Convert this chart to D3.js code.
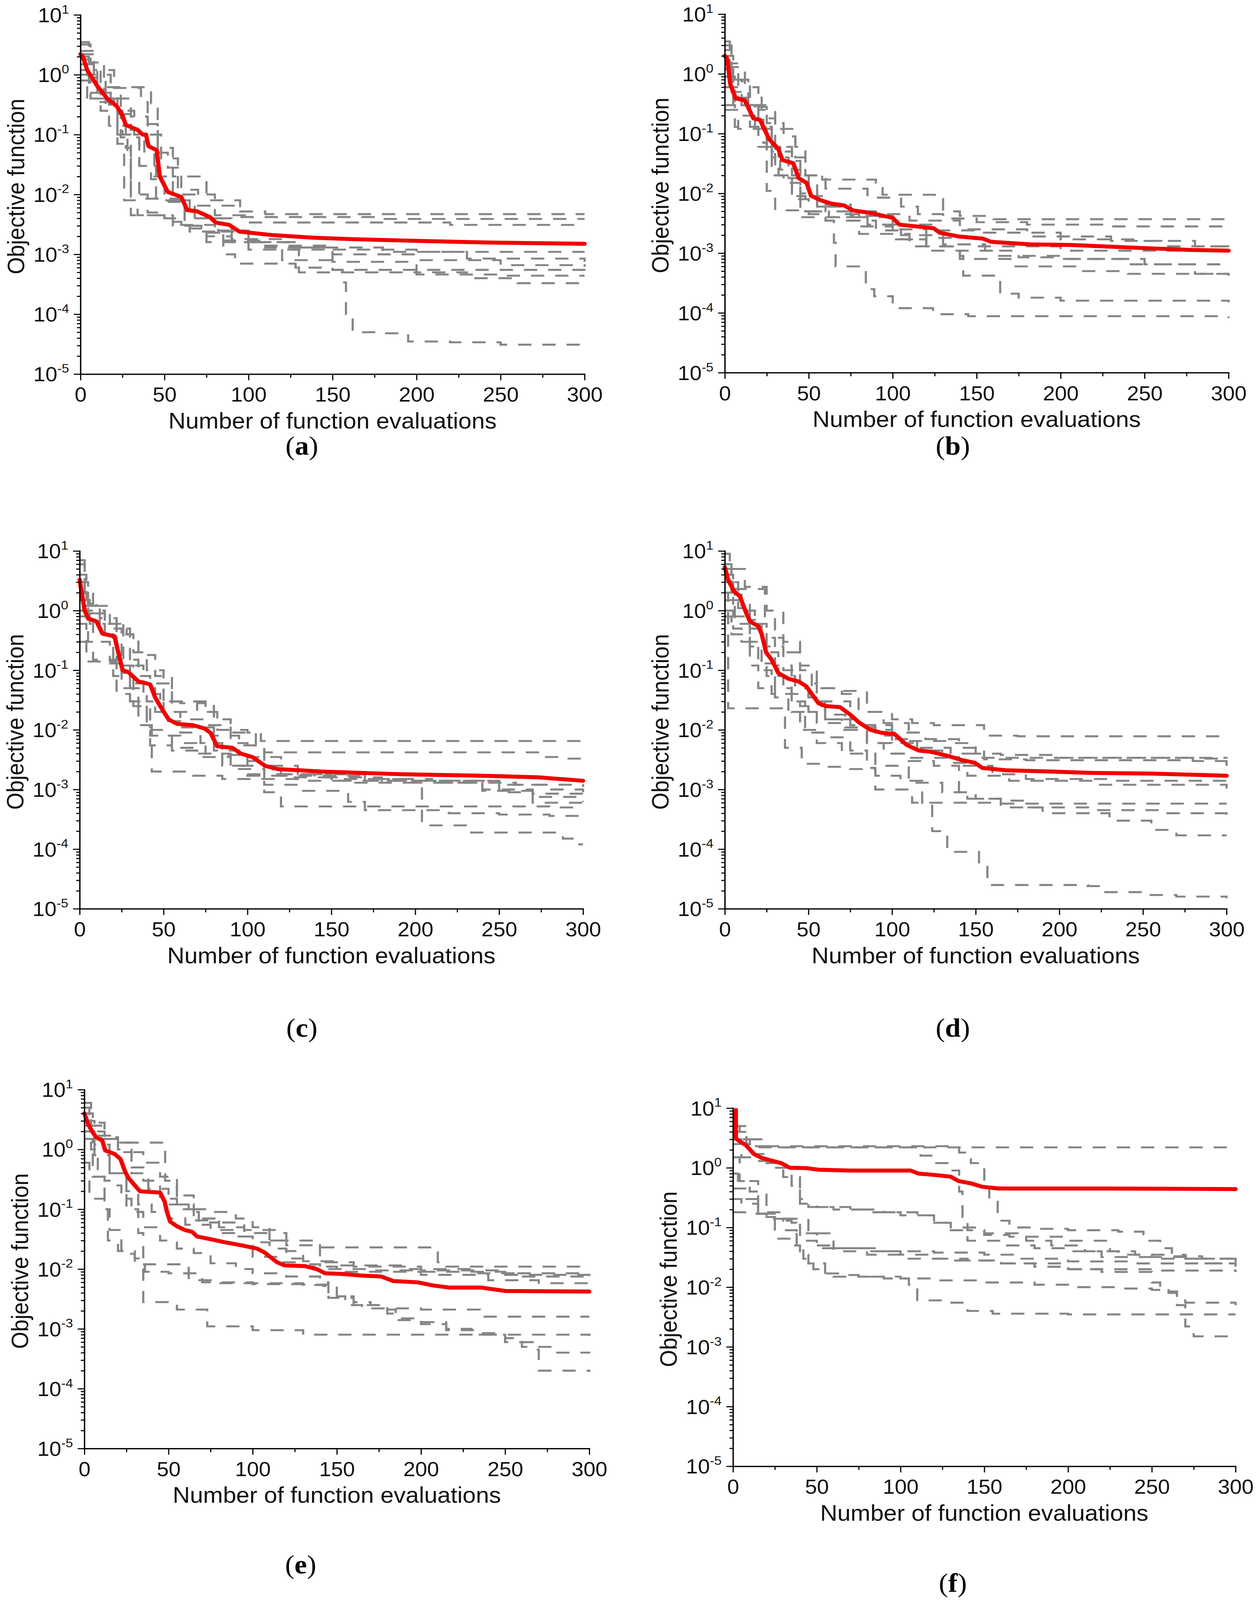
<!DOCTYPE html>
<html>
<head>
<meta charset="utf-8">
<script src="https://cdn.jsdelivr.net/npm/d3@7"></script>
<style>
  html, body { margin: 0; padding: 0; background: #fff; overflow: hidden; }
  svg { display: block; width: 100vw; height: 100vh; }
</style>
</head>
<body>
<svg id="figure" viewBox="0 0 3224 4414" preserveAspectRatio="none"></svg>
<script>
// ---- tick values and texts ----
const xTickValues = [0, 50, 100, 150, 200, 250, 300];
const xMinorValues = [25, 75, 125, 175, 225, 275];
const yExponents = [-5, -4, -3, -2, -1, 0, 1];
const panelLetters = ['a', 'b', 'c', 'd', 'e', 'f'];
const xTitle = 'Number of function evaluations';
const yTitle = 'Objective function';

// ---- panel (a) ----
const meanA = [[0,2.2],[1.5,2.0],[4,1.2],[10,0.65],[16,0.4],[21.5,0.3],[25,0.21],[27,0.145],[34,0.12],[37,0.1],[39,0.1],[40.5,0.064],[45.4,0.055],[47.2,0.02],[52,0.011],[60,0.0091],[63.5,0.0055],[69.6,0.0052],[77,0.0042],[80.5,0.0034],[88.5,0.0031],[94.6,0.0024],[114,0.0021],[138,0.0019],[160,0.0018],[200,0.00168],[240,0.00158],[300,0.0015]];
const runsA = [
  [[0,3.2],[6,1.6],[12,0.62],[42,0.33],[46,0.05],[52,0.028],[60,0.012],[70,0.0065],[95,0.0052],[110,0.0047],[300,0.0047]],
  [[0,2.5],[8,1.2],[20,0.6],[36,0.35],[40,0.15],[46,0.06],[55,0.02],[75,0.008],[95,0.0042],[180,0.0039],[300,0.0039]],
  [[0,1.5],[10,0.5],[22,0.4],[30,0.2],[40,0.1],[48,0.04],[58,0.01],[80,0.0045],[100,0.0034],[220,0.0031],[300,0.0031]],
  [[0,2.0],[5,0.5],[12,0.25],[25,0.1],[30,0.018],[35,0.0085],[45,0.0085],[62,0.003],[75,0.002],[90,0.0016],[110,0.0014],[150,0.0012],[200,0.0011],[300,0.0011]],
  [[0,1.2],[4,0.4],[15,0.3],[22,0.1],[28,0.04],[30,0.01],[40,0.005],[50,0.004],[60,0.0031],[80,0.0024],[100,0.0016],[130,0.0013],[180,0.0011],[230,0.00085],[300,0.00075]],
  [[0,0.8],[6,0.4],[20,0.22],[30,0.12],[35,0.03],[42,0.018],[50,0.0075],[62,0.003],[72,0.0023],[85,0.0017],[110,0.0013],[150,0.001],[200,0.0008],[250,0.00066],[300,0.00062]],
  [[0,1.0],[10,0.35],[17,0.14],[27,0.06],[30,0.0045],[50,0.0045],[55,0.003],[65,0.0024],[85,0.001],[92,0.0007],[128,0.0006],[150,0.00055],[300,0.00054]],
  [[0,3.5],[5,1.5],[14,0.5],[24,0.25],[32,0.1],[38,0.05],[44,0.02],[55,0.008],[68,0.004],[82,0.0025],[100,0.0016],[125,0.0012],[130,0.0005],[200,0.00046],[250,0.00044],[300,0.00044]],
  [[0,1.8],[5,0.9],[15,0.4],[22,0.07],[26,0.008],[30,0.008],[34,0.0045],[50,0.0035],[60,0.0027],[75,0.0016],[100,0.0012],[150,0.00075],[200,0.0005],[230,0.0004],[260,0.00033],[300,0.0003]],
  [[0,2.2],[8,1.0],[18,0.25],[24,0.09],[35,0.03],[45,0.008],[65,0.004],[90,0.0018],[120,0.0008],[150,0.00055],[156,0.00034],[158,0.0001],[162,0.00005],[180,0.000048],[195,0.000035],[220,0.000034],[250,0.000031],[300,0.000031]]
];

// ---- panel (b) ----
const meanB = [[0,2.0],[1.4,1.8],[3.3,0.67],[6.5,0.39],[12,0.36],[17,0.18],[21,0.17],[26.5,0.08],[31.8,0.056],[34.4,0.036],[40.8,0.032],[44,0.018],[48.7,0.015],[51.4,0.0091],[57.6,0.0076],[63.8,0.0067],[71,0.0063],[76.3,0.0052],[88.8,0.0046],[93,0.0043],[100,0.0039],[104,0.003],[124.4,0.0026],[128,0.0022],[139.3,0.0019],[153.7,0.00175],[158.5,0.00155],[182,0.0014],[206,0.00137],[242,0.00124],[278,0.00113],[300,0.0011]];
const runsB = [
  [[0,3.5],[3,0.8],[10,0.75],[15,0.3],[25,0.15],[35,0.09],[42,0.04],[48,0.02],[58,0.017],[90,0.015],[94,0.0095],[125,0.008],[130,0.005],[140,0.0042],[160,0.0037],[300,0.0035]],
  [[0,1.2],[5,0.8],[14,0.28],[25,0.18],[30,0.06],[40,0.035],[45,0.02],[60,0.012],[85,0.0085],[105,0.006],[115,0.0045],[130,0.0038],[150,0.0033],[180,0.003],[230,0.0028],[300,0.0028]],
  [[0,2.5],[4,0.5],[12,0.3],[20,0.12],[28,0.05],[40,0.02],[50,0.009],[60,0.0065],[75,0.005],[90,0.0045],[110,0.0035],[140,0.0025],[180,0.0019],[230,0.0016],[260,0.0013],[300,0.00118]],
  [[0,0.9],[6,0.3],[15,0.13],[25,0.06],[33,0.025],[45,0.01],[55,0.006],[75,0.0042],[100,0.0025],[120,0.0018],[150,0.0013],[200,0.0011],[300,0.001]],
  [[0,0.3],[6,0.13],[20,0.12],[25,0.055],[32,0.02],[40,0.009],[48,0.005],[62,0.004],[80,0.0028],[100,0.0017],[120,0.0011],[160,0.0009],[200,0.0008],[250,0.00065],[300,0.00063]],
  [[0,1.5],[8,0.4],[22,0.13],[28,0.02],[35,0.015],[45,0.004],[60,0.0035],[80,0.0021],[110,0.0013],[140,0.0008],[170,0.0006],[210,0.0005],[240,0.00045],[300,0.00042]],
  [[0,0.6],[10,0.2],[23,0.07],[25,0.011],[30,0.0052],[45,0.005],[58,0.004],[70,0.0035],[90,0.0024],[105,0.0017],[120,0.0013],[140,0.0009],[142,0.00042],[162,0.00042],[164,0.00021],[175,0.00018],[200,0.00016],[300,0.00015]],
  [[0,0.25],[8,0.12],[20,0.06],[30,0.02],[40,0.008],[50,0.0045],[60,0.0035],[65,0.0015],[66,0.0006],[82,0.0006],[84,0.00025],[89,0.00019],[100,0.00012],[124,0.000095],[145,0.000088],[300,0.000082]],
  [[0,2.0],[5,0.3],[18,0.13],[28,0.04],[38,0.018],[45,0.009],[55,0.006],[70,0.0045],[85,0.003],[105,0.002],[130,0.0014],[155,0.0011],[175,0.00085],[200,0.0008],[240,0.00065],[280,0.00045],[300,0.0004]],
  [[0,3.0],[4,1.3],[12,0.6],[20,0.25],[30,0.12],[42,0.06],[48,0.02],[55,0.006],[60,0.005],[80,0.004],[100,0.003],[125,0.0024],[150,0.0022],[200,0.0017],[250,0.0016],[280,0.0013],[300,0.0012]]
];

// ---- panel (c) ----
const meanC = [[0,3.3],[3,1.0],[5,0.74],[10,0.66],[13.6,0.41],[20.8,0.37],[23,0.2],[25.6,0.1],[29,0.093],[35,0.065],[42,0.058],[45,0.035],[48,0.025],[53,0.015],[58,0.0126],[67.5,0.012],[74.6,0.0105],[78,0.0089],[82,0.0053],[91,0.005],[96,0.004],[103,0.0035],[110.5,0.0025],[118,0.0022],[144,0.002],[192,0.0018],[240,0.0017],[273,0.0016],[300,0.0014]];
const runsC = [
  [[0,6],[3,1.2],[10,1.0],[15,0.7],[22,0.4],[32,0.2],[40,0.1],[50,0.03],[60,0.028],[75,0.02],[82,0.01],[100,0.009],[108,0.0065],[300,0.0064]],
  [[0,3],[5,1.3],[12,0.75],[22,0.5],[30,0.12],[38,0.04],[48,0.03],[76,0.03],[80,0.015],[90,0.009],[105,0.0055],[110,0.0042],[260,0.0042],[275,0.0035],[290,0.0033],[300,0.0028]],
  [[0,1.5],[6,0.6],[15,0.35],[22,0.13],[30,0.06],[40,0.03],[50,0.014],[60,0.009],[72,0.006],[85,0.0038],[100,0.0025],[115,0.0018],[140,0.0016],[180,0.0014],[220,0.0013],[260,0.0012],[300,0.0011]],
  [[0,0.3],[8,0.15],[25,0.09],[30,0.05],[45,0.02],[60,0.011],[80,0.0045],[95,0.0035],[120,0.0017],[170,0.0014],[210,0.0013],[240,0.001],[270,0.00085],[300,0.00078]],
  [[0,0.8],[5,0.3],[18,0.14],[25,0.05],[35,0.025],[42,0.008],[55,0.005],[70,0.004],[85,0.0025],[100,0.0017],[125,0.0016],[150,0.0014],[200,0.0013],[240,0.00095],[270,0.00075],[300,0.00062]],
  [[0,0.6],[4,0.14],[18,0.13],[22,0.04],[30,0.025],[35,0.012],[42,0.0055],[55,0.0045],[70,0.0035],[90,0.0022],[110,0.0009],[120,0.00052],[200,0.00052],[280,0.0005],[300,0.00049]],
  [[0,2],[5,0.9],[12,0.5],[25,0.12],[32,0.025],[40,0.01],[50,0.008],[60,0.006],[75,0.004],[90,0.0025],[100,0.0018],[110,0.0012],[130,0.00095],[160,0.00062],[170,0.00045],[220,0.0004],[250,0.00038],[280,0.00036],[300,0.00029]],
  [[0,1],[8,0.4],[20,0.08],[30,0.03],[40,0.012],[43,0.002],[55,0.002],[65,0.0017],[85,0.0015],[130,0.0014],[160,0.0013],[200,0.0012],[204,0.00025],[228,0.00025],[232,0.00019],[288,0.00015],[296,0.00012],[300,0.00012]],
  [[0,4],[4,1.5],[10,1.2],[18,0.6],[26,0.15],[35,0.08],[42,0.06],[55,0.02],[65,0.015],[75,0.012],[90,0.006],[100,0.003],[110,0.0018],[150,0.0015],[200,0.0014],[250,0.0012],[280,0.001],[300,0.0009]],
  [[0,7],[3,2],[8,0.9],[15,0.6],[28,0.4],[35,0.18],[45,0.08],[55,0.03],[70,0.02],[80,0.008],[95,0.0055],[110,0.0025],[130,0.0018],[170,0.0015],[210,0.0014],[250,0.0009],[270,0.0006],[300,0.00055]]
];

// ---- panel (d) ----
const meanD = [[0,5.3],[2,3.3],[5.5,2.1],[9,1.75],[12.7,0.93],[15,0.66],[20,0.55],[22,0.41],[24.7,0.2],[28,0.15],[32,0.09],[38,0.072],[44,0.065],[48.7,0.054],[52,0.04],[56,0.028],[60.7,0.025],[69,0.024],[75,0.018],[80,0.0135],[87,0.01],[94,0.0089],[101.5,0.0085],[108.7,0.0056],[116,0.0045],[123,0.0043],[132.7,0.0037],[142,0.0031],[149.5,0.0028],[154,0.0023],[168,0.0021],[195,0.002],[219,0.0019],[255,0.00185],[300,0.0017]];
const runsD = [
  [[0,9],[3,5],[12,2.5],[25,1],[35,0.3],[45,0.1],[55,0.05],[70,0.045],[85,0.02],[100,0.015],[112,0.013],[125,0.012],[150,0.012],[155,0.008],[175,0.0078],[300,0.0074]],
  [[0,4],[5,2.3],[20,2.3],[24,0.8],[30,0.35],[35,0.2],[45,0.12],[52,0.05],[70,0.04],[80,0.02],[95,0.013],[110,0.0065],[135,0.006],[150,0.004],[165,0.0038],[200,0.0034],[280,0.0033],[300,0.0025]],
  [[0,6],[4,2],[10,1],[18,0.6],[25,0.25],[35,0.1],[45,0.06],[55,0.03],[75,0.012],[90,0.01],[100,0.009],[120,0.007],[140,0.005],[155,0.0032],[180,0.0031],[250,0.0031],[280,0.003],[300,0.0031]],
  [[0,3],[5,1.5],[15,0.5],[25,0.2],[32,0.08],[42,0.05],[50,0.02],[60,0.015],[80,0.012],[100,0.007],[115,0.0045],[130,0.0035],[140,0.0025],[160,0.0018],[180,0.0015],[230,0.0014],[300,0.0014]],
  [[0,2],[6,0.6],[15,0.3],[25,0.08],[35,0.04],[45,0.025],[60,0.015],[70,0.01],[85,0.006],[95,0.004],[110,0.0034],[135,0.0028],[145,0.0017],[170,0.0014],[220,0.0012],[300,0.00104]],
  [[0,1],[5,0.5],[10,0.3],[20,0.13],[30,0.05],[40,0.03],[48,0.009],[60,0.0075],[75,0.0045],[85,0.0023],[90,0.001],[110,0.00095],[112,0.0006],[160,0.00058],[300,0.00058]],
  [[0,0.8],[4,0.4],[15,0.25],[22,0.1],[28,0.04],[40,0.02],[55,0.013],[70,0.01],[85,0.006],[100,0.004],[110,0.003],[125,0.0025],[140,0.0009],[145,0.0007],[165,0.00065],[180,0.0005],[220,0.00045],[260,0.0004],[300,0.00037]],
  [[0,1.5],[5,0.8],[15,0.12],[20,0.05],[30,0.035],[38,0.02],[45,0.01],[55,0.006],[70,0.004],[90,0.0025],[110,0.0013],[130,0.0009],[150,0.0007],[165,0.0005],[190,0.0004],[230,0.0003],[255,0.00021],[270,0.00017],[300,0.00017]],
  [[0,2],[2,0.023],[30,0.023],[36,0.005],[46,0.0027],[60,0.0024],[75,0.0022],[90,0.0017],[105,0.0014],[118,0.0006],[124,0.0002],[133,0.00009],[152,0.00006],[157,0.000025],[217,0.000024],[225,0.000019],[250,0.000017],[270,0.000016],[300,0.000015]],
  [[0,5],[4,3],[8,1.1],[15,0.7],[22,0.35],[30,0.12],[40,0.04],[50,0.035],[60,0.018],[72,0.011],[90,0.008],[100,0.006],[115,0.005],[135,0.004],[150,0.0034],[300,0.0033]]
];

// ---- panel (e) ----
const meanE = [[0,4],[2.4,2.6],[4.8,1.96],[7,1.6],[10.7,1.4],[12.4,0.96],[18,0.84],[21.5,0.69],[24,0.44],[26,0.34],[30,0.25],[33,0.2],[45,0.19],[47.7,0.135],[49,0.092],[51,0.062],[55,0.052],[59.6,0.045],[64,0.042],[67,0.035],[74,0.032],[83.5,0.028],[93,0.025],[102.5,0.022],[107,0.019],[114.5,0.013],[119,0.0115],[131,0.0112],[138,0.01],[143,0.0085],[152.6,0.0083],[164.6,0.0078],[176.5,0.0075],[183.6,0.0063],[198,0.006],[207.5,0.0053],[217,0.0049],[236,0.0049],[250,0.0043],[300,0.0042]];
const runsE = [
  [[0,5],[3,2.5],[10,1.5],[18,1.3],[28,0.9],[35,0.6],[45,0.35],[55,0.17],[65,0.1],[75,0.09],[90,0.07],[100,0.05],[110,0.03],[120,0.025],[140,0.023],[200,0.023],[210,0.013],[215,0.011],[300,0.011]],
  [[0,4],[5,2.8],[12,1.5],[22,1.3],[46,1.3],[48,0.3],[55,0.12],[62,0.09],[68,0.06],[80,0.04],[90,0.035],[100,0.028],[110,0.022],[120,0.015],[130,0.012],[140,0.01],[170,0.0095],[200,0.009],[250,0.0085],[300,0.0083]],
  [[0,3],[4,2],[12,1.6],[20,0.9],[28,0.5],[35,0.3],[45,0.15],[55,0.1],[65,0.065],[80,0.05],[95,0.04],[110,0.03],[120,0.02],[130,0.0135],[150,0.0115],[190,0.01],[230,0.0085],[260,0.0075],[300,0.0068]],
  [[0,2],[6,0.8],[15,0.4],[25,0.2],[32,0.12],[40,0.09],[50,0.07],[60,0.055],[75,0.045],[90,0.035],[100,0.016],[115,0.013],[130,0.011],[150,0.009],[200,0.008],[240,0.0065],[270,0.0058],[300,0.0054]],
  [[0,6],[4,1.0],[8,0.35],[12,0.3],[16,0.25],[22,0.15],[28,0.09],[35,0.05],[45,0.03],[55,0.022],[65,0.0185],[75,0.0125],[90,0.01],[100,0.0085],[120,0.0075],[140,0.006],[145,0.0035],[155,0.0025],[165,0.0022],[200,0.0021],[235,0.0016],[300,0.0016]],
  [[0,1.5],[5,0.35],[12,0.1],[15,0.045],[22,0.018],[30,0.012],[45,0.012],[62,0.0065],[78,0.0058],[100,0.0056],[130,0.0054],[142,0.0052],[150,0.0035],[160,0.0028],[170,0.0025],[180,0.0018],[185,0.0014],[200,0.0012],[215,0.001],[230,0.0008],[250,0.0006],[260,0.0005],[280,0.0004],[300,0.00039]],
  [[0,0.6],[3,0.15],[12,0.14],[14,0.03],[20,0.02],[30,0.015],[36,0.009],[50,0.0085],[70,0.006],[100,0.0058],[130,0.0055],[145,0.0033],[160,0.0025],[175,0.0021],[185,0.0015],[200,0.0013],[215,0.00095],[235,0.00085],[250,0.0007],[260,0.0006],[268,0.00045],[270,0.0002],[300,0.00019]],
  [[0,3],[6,1.2],[15,0.4],[25,0.1],[32,0.04],[35,0.0028],[55,0.0021],[73,0.0011],[100,0.00095],[130,0.0008],[300,0.00076]],
  [[0,2.5],[8,1.7],[20,1],[28,0.4],[38,0.22],[50,0.12],[65,0.07],[80,0.06],[95,0.045],[115,0.04],[120,0.03],[138,0.028],[140,0.013],[160,0.011],[200,0.0095],[250,0.008],[300,0.0075]]
];

// ---- panel (f) ----
const meanF = [[1.7,9.3],[1.7,3.1],[3,2.9],[7.7,2.4],[12.5,1.7],[17,1.47],[23,1.32],[29,1.19],[34,1.0],[43.6,0.99],[51,0.93],[70,0.9],[106,0.9],[110.7,0.8],[120,0.76],[130,0.71],[134.6,0.6],[141.8,0.55],[149,0.48],[158.6,0.45],[225.7,0.45],[300,0.44]];
const runsF = [
  [[0,2.5],[10,2.3],[25,2.2],[300,2.2]],
  [[0,5],[8,2.5],[15,2.2],[108,2.2],[112,1.6],[120,1.2],[128,0.9],[135,0.4],[137,0.15],[140,0.09],[150,0.075],[165,0.07],[175,0.06],[190,0.05],[210,0.04],[230,0.035],[250,0.032],[270,0.03],[300,0.028]],
  [[0,4],[10,3],[20,2.3],[130,2.2],[135,1.8],[142,1.2],[150,0.6],[153,0.3],[158,0.13],[165,0.1],[180,0.095],[200,0.09],[230,0.085],[245,0.06],[255,0.045],[262,0.035],[270,0.03],[300,0.024]],
  [[0,3],[5,1.5],[12,1.3],[22,1.0],[35,0.5],[40,0.3],[45,0.22],[60,0.2],[80,0.18],[100,0.16],[120,0.12],[130,0.09],[140,0.06],[160,0.05],[180,0.045],[200,0.04],[220,0.032],[250,0.03],[280,0.025],[300,0.022]],
  [[0,0.8],[3,0.6],[12,0.6],[15,0.17],[25,0.14],[35,0.14],[40,0.06],[50,0.045],[60,0.04],[80,0.035],[100,0.03],[130,0.028],[160,0.025],[200,0.02],[250,0.019],[300,0.018]],
  [[0,1.5],[4,0.6],[10,0.4],[20,0.15],[25,0.13],[35,0.12],[38,0.05],[42,0.03],[48,0.02],[55,0.017],[65,0.016],[75,0.015],[100,0.014],[120,0.013],[150,0.012],[180,0.011],[200,0.01],[230,0.0095],[250,0.009],[260,0.0085],[265,0.006],[270,0.0055],[300,0.005]],
  [[0,0.18],[10,0.17],[20,0.15],[25,0.065],[35,0.05],[40,0.035],[45,0.025],[55,0.016],[60,0.015],[90,0.014],[105,0.011],[110,0.006],[125,0.0055],[140,0.004],[155,0.0036],[200,0.0035],[300,0.0035]],
  [[0,0.3],[5,0.25],[15,0.18],[30,0.14],[45,0.08],[60,0.045],[80,0.04],[100,0.035],[120,0.03],[140,0.028],[160,0.025],[180,0.022],[200,0.02],[220,0.018],[250,0.012],[255,0.01],[260,0.008],[265,0.005],[270,0.0022],[275,0.0015],[300,0.0014]],
  [[0,5],[4,3],[10,1.7],[20,1.2],[30,0.7],[40,0.25],[50,0.22],[70,0.2],[90,0.18],[110,0.16],[120,0.12],[130,0.1],[150,0.08],[170,0.07],[200,0.06],[225,0.04],[240,0.035],[260,0.033],[280,0.03],[300,0.029]],
  [[0,0.45],[8,0.3],[15,0.17],[22,0.14],[30,0.09],[38,0.08],[50,0.05],[60,0.045],[90,0.04],[120,0.038],[150,0.035],[170,0.03],[200,0.027],[240,0.025],[300,0.024]]
];

const allRuns = [runsA, runsB, runsC, runsD, runsE, runsF];
const allMeans = [meanA, meanB, meanC, meanD, meanE, meanF];

// ---- layout (pixel boxes of each plot frame, in the 3224x4414 view) ----
const panelBoxes = [
  { left: 206, right: 1497, top: 41, bottom: 1032, labelX: 773, labelY: 1230 },
  { left: 1856, right: 3146, top: 39, bottom: 1028, labelX: 2440, labelY: 1230 },
  { left: 204, right: 1493, top: 1520, bottom: 2507, labelX: 773, labelY: 2835 },
  { left: 1856, right: 3141, top: 1520, bottom: 2507, labelX: 2440, labelY: 2835 },
  { left: 216, right: 1509, top: 3006, bottom: 3996, labelX: 770, labelY: 4316 },
  { left: 1877, right: 3164, top: 3057, bottom: 4045, labelX: 2440, labelY: 4366 }
];

const style = {
  sans: '"Liberation Sans", Arial, sans-serif',
  serif: '"Liberation Serif", "Times New Roman", serif',
  tickFont: 55,
  expFont: 34,
  titleFont: 61,
  labelFont: 72,
  runColor: '#858585',
  meanColor: '#f20000'
};

const svg = d3.select('#figure');
svg.append('rect').attr('width', 3224).attr('height', 4414).attr('fill', '#fff');

function drawPanel(box, runs, mean, letter) {
  const x = d3.scaleLinear().domain([0, 300]).range([box.left, box.right]);
  const y = d3.scaleLog().domain([1e-5, 1e1]).range([box.bottom, box.top]);
  const g = svg.append('g');

  const stepLine = d3.line().x((d) => x(d[0])).y((d) => y(d[1])).curve(d3.curveStepAfter);
  g.append('g')
    .selectAll('path')
    .data(runs)
    .join('path')
    .attr('d', stepLine)
    .attr('fill', 'none')
    .attr('stroke', style.runColor)
    .attr('stroke-width', 5.5)
    .attr('stroke-dasharray', '34 28');

  const meanLine = d3.line().x((d) => x(d[0])).y((d) => y(d[1]));
  g.append('path')
    .datum(mean)
    .attr('d', meanLine)
    .attr('fill', 'none')
    .attr('stroke', style.meanColor)
    .attr('stroke-width', 11)
    .attr('stroke-linejoin', 'round')
    .attr('stroke-linecap', 'round');

  // y axis: decades + log minor ticks
  const minorY = [];
  yExponents.slice(0, -1).forEach((e) => {
    for (let k = 2; k <= 9; k++) minorY.push(k * Math.pow(10, e));
  });
  const yMinor = g.append('g')
    .attr('transform', `translate(${box.left},0)`)
    .call(d3.axisLeft(y).tickValues(minorY).tickSize(9).tickSizeOuter(0).tickFormat(() => ''));
  yMinor.select('.domain').remove();

  const yAxis = g.append('g')
    .attr('transform', `translate(${box.left},0)`)
    .call(d3.axisLeft(y)
      .tickValues(yExponents.map((e) => Math.pow(10, e)))
      .tickSize(17)
      .tickSizeOuter(0)
      .tickPadding(12));
  yAxis.selectAll('.tick text').each(function (d) {
    const t = d3.select(this);
    t.text(null)
      .attr('font-family', style.sans)
      .attr('font-size', style.tickFont)
      .attr('fill', '#111')
      .attr('dy', '0.36em');
    t.append('tspan').text('10');
    t.append('tspan')
      .attr('dy', -24)
      .attr('font-size', style.expFont)
      .text(String(Math.round(Math.log10(d))));
  });

  // x axis
  const xMinor = g.append('g')
    .attr('transform', `translate(0,${box.bottom})`)
    .call(d3.axisBottom(x).tickValues(xMinorValues).tickSize(10).tickSizeOuter(0).tickFormat(() => ''));
  xMinor.select('.domain').remove();

  const xAxis = g.append('g')
    .attr('transform', `translate(0,${box.bottom})`)
    .call(d3.axisBottom(x).tickValues(xTickValues).tickSize(17).tickSizeOuter(0).tickPadding(20));
  xAxis.selectAll('.tick text')
    .attr('font-family', style.sans)
    .attr('font-size', style.tickFont)
    .attr('fill', '#111');

  g.selectAll('.domain').attr('stroke', '#000').attr('stroke-width', 3.5).attr('stroke-linecap', 'square');
  g.selectAll('.tick line').attr('stroke', '#000').attr('stroke-width', 3);

  // axis titles
  g.append('text')
    .text(xTitle)
    .attr('x', (box.left + box.right) / 2)
    .attr('y', box.bottom + 150)
    .attr('text-anchor', 'middle')
    .attr('font-family', style.sans)
    .attr('font-size', style.titleFont)
    .attr('fill', '#111');

  g.append('text')
    .text(yTitle)
    .attr('transform', `translate(${box.left - 144},${(box.top + box.bottom) / 2 - 22}) rotate(-90)`)
    .attr('text-anchor', 'middle')
    .attr('font-family', style.sans)
    .attr('font-size', style.titleFont)
    .attr('fill', '#111');

  // panel letter
  const lab = svg.append('text')
    .attr('x', box.labelX)
    .attr('y', box.labelY)
    .attr('text-anchor', 'middle')
    .attr('dominant-baseline', 'central')
    .attr('font-family', style.serif)
    .attr('font-size', style.labelFont)
    .attr('fill', '#000');
  lab.append('tspan').text('(');
  lab.append('tspan').attr('font-weight', 'bold').text(letter);
  lab.append('tspan').text(')');
}

panelBoxes.forEach((box, i) => drawPanel(box, allRuns[i], allMeans[i], panelLetters[i]));
</script>
</body>
</html>
